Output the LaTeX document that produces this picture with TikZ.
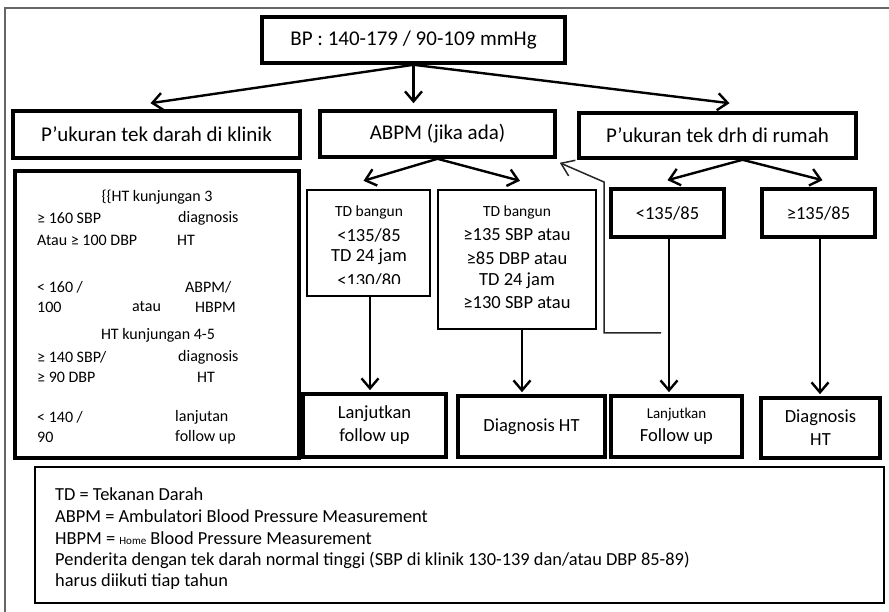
\documentclass[tikz,border=0pt]{standalone}
\usepackage{fontspec}
\setmainfont{Carlito}
\usetikzlibrary{arrows.meta,calc}
\newcommand{\myfs}[1]{\fontsize{#1}{#1}\selectfont}
\begin{document}
\begin{tikzpicture}[x=1pt,y=-1pt,
  frameline/.style={draw=black!60, line width=1.8pt},
  heavybox/.style={draw, line width=3.6pt, inner sep=0pt, align=center},
  medbox/.style={draw, line width=2.4pt, inner sep=0pt},
  legbox/.style={draw, line width=1.6pt, inner sep=0pt},
  txt/.style={inner sep=0pt},
  ltxt/.style={inner sep=0pt, anchor=west, font=\myfs{16}},
  ctxt/.style={inner sep=0pt, font=\myfs{16}},
  gtxt/.style={inner sep=0pt, anchor=west, font=\myfs{18.4}},
  arr/.style={line width=2.4pt, -{Straight Barb[length=10pt,width=17pt]}},
  thinarr/.style={draw=black!85, line width=1.5pt, -{Straight Barb[length=12pt,width=17pt]}}
]
\useasboundingbox (0,0) rectangle (889,612);
\fill[white] (0,0) rectangle (889,612);
% outer frame (only top and left visible)
\draw[frameline] (889,8) -- (5,8) -- (5,612);

% top box
\node[heavybox, minimum width=303pt, minimum height=46pt, font=\myfs{21}] (bp) at (413.5,40) {BP : 140-179 / 90-109 mmHg};

% second row
\node[heavybox, minimum width=287pt, minimum height=47pt, font=\myfs{21}] (klinik) at (156.5,134.5) {P’ukuran tek darah di klinik};
\node[heavybox, minimum width=235pt, minimum height=46pt, font=\myfs{21}] (abpm) at (437.5,134) {ABPM (jika ada)};
\node[heavybox, minimum width=277pt, minimum height=45pt, font=\myfs{21}] (rumah) at (717.5,135.5) {P’ukuran tek drh di rumah};

% big left box
\node[heavybox, line width=4.2pt, minimum width=284pt, minimum height=287pt] (left) at (157,314.5) {};
\node[ctxt] (l1) at (157,197) {\{\{HT kunjungan 3};
\node[ltxt] (l2a) at (37,218) {≥ 160 SBP};
\node[ltxt] (l2b) at (178,218) {diagnosis};
\node[ltxt] (l3a) at (37,240) {Atau ≥ 100 DBP};
\node[ltxt] (l3b) at (177,240) {HT};
\node[ltxt] (l4a) at (37,287) {< 160 /};
\node[ltxt] (l4b) at (185,287) {ABPM/};
\node[ltxt] (l5a) at (37,307) {100};
\node[ltxt] (l5b) at (132,307) {atau};
\node[ltxt] (l5c) at (195,307) {HBPM};
\node[ctxt] (l6) at (158,335) {HT kunjungan 4-5};
\node[ltxt] (l7a) at (37,357) {≥ 140 SBP/};
\node[ltxt] (l7b) at (178,357) {diagnosis};
\node[ltxt] (l8a) at (37,377) {≥ 90 DBP};
\node[ltxt] (l8b) at (197,377) {HT};
\node[ltxt] (l9a) at (37,417) {< 140 /};
\node[ltxt] (l9b) at (175,417) {lanjutan};
\node[ltxt] (l10a) at (37,437) {90};
\node[ltxt] (l10b) at (175,437) {follow up};

% TD bangun boxes
\node[medbox, minimum width=123pt, minimum height=106pt] (td1) at (368.5,243) {};
\begin{scope}
\clip (308,191) rectangle (429,283.5);
\node[txt, font=\myfs{15.5}] (td1a) at (369,212) {TD bangun};
\node[txt, font=\myfs{18.5}] (td1b) at (369,235) {<135/85};
\node[txt, font=\myfs{18.5}] (td1c) at (369,257) {TD 24 jam};
\node[txt, font=\myfs{18.5}] (td1d) at (369,280.5) {<130/80};
\end{scope}
\node[medbox, minimum width=158pt, minimum height=139pt] (td2) at (517,259.5) {};
\node[txt, font=\myfs{15.5}] (td2a) at (517,212) {TD bangun};
\node[txt, font=\myfs{18.5}] (td2b) at (517,235) {≥135 SBP atau};
\node[txt, font=\myfs{18.5}] (td2c) at (517,258) {≥85 DBP atau};
\node[txt, font=\myfs{18.5}] (td2d) at (517,281) {TD 24 jam};
\node[txt, font=\myfs{18.5}] (td2e) at (517,303) {≥130 SBP atau};

% home measurement result boxes
\node[heavybox, minimum width=113pt, minimum height=48pt, font=\myfs{18.5}] (lt) at (667.5,213) {<135/85};
\node[heavybox, minimum width=113pt, minimum height=48pt, font=\myfs{18.5}] (ge) at (818.5,213) {≥135/85};

% bottom row
\node[heavybox, minimum width=143pt, minimum height=63pt, font=\fontsize{18.5}{23}\selectfont] (lf1) at (374.5,425.5) {Lanjutkan\\follow up};
\node[heavybox, minimum width=147pt, minimum height=61pt, font=\myfs{18.5}] (dg1) at (531.5,426.5) {Diagnosis HT};
\node[heavybox, minimum width=131pt, minimum height=61pt] (lf2) at (676.5,426.5) {};
\node[txt, font=\myfs{15}] (lf2a) at (676.5,415) {Lanjutkan};
\node[txt, font=\myfs{18.5}] (lf2b) at (676.5,437) {Follow up};
\node[heavybox, minimum width=119pt, minimum height=60pt, font=\fontsize{18.5}{23}\selectfont] (dg2) at (820.5,428) {Diagnosis\\HT};

% legend
\node[legbox, minimum width=849pt, minimum height=136pt] (leg) at (459.5,535) {};
\node[gtxt] (g1) at (55,494) {TD = Tekanan Darah};
\node[gtxt] (g2) at (55,516) {ABPM = Ambulatori Blood Pressure Measurement};
\node[gtxt] (g3) at (55,538) {HBPM = {\myfs{11}Home} Blood Pressure Measurement};
\node[gtxt] (g4) at (55,560) {Penderita dengan tek darah normal tinggi (SBP di klinik 130-139 dan/atau DBP 85-89)};
\node[gtxt] (g5) at (55,582) {harus diikuti tiap tahun};

% connectors from BP
\draw[arr] (bp.south) -- ($(klinik.north)+(-6,-6)$);
\draw[arr] (bp.south) -- ($(bp.south |- abpm.north)+(0,-6)$);
\draw[arr] (bp.south) -- ($(rumah.north)+(12,-8)$);

% from ABPM
\draw[arr] (abpm.south) -- ($(td1.north)+(-5,-8)$);
\draw[arr] (abpm.south) -- ($(td2.north)+(3,-8)$);

% from rumah
\coordinate (rs) at ($(rumah.south)+(25,0)$);
\draw[arr] (rs) -- ($(lt.north)+(0,-7)$);
\draw[arr] (rs) -- ($(ge.north)+(4,-7)$);

% vertical arrows down
\coordinate (s1) at ($(td1.south)+(1.5,0)$);
\coordinate (s2) at ($(td2.south)+(5,0)$);
\coordinate (s3) at ($(lt.south)+(1.5,0)$);
\coordinate (s4) at ($(ge.south)+(1.5,0)$);
\coordinate (e1) at ($(lf1.north)+(0,-2)$);
\coordinate (e2) at ($(dg1.north)+(0,-2)$);
\coordinate (e3) at ($(lf2.north)+(0,-2)$);
\coordinate (e4) at ($(dg2.north)+(0,-2)$);
\draw[arr] (s1) -- (s1 |- e1);
\draw[arr] (s2) -- (s2 |- e2);
\draw[arr] (s3) -- (s3 |- e3);
\draw[arr] (s4) -- (s4 |- e4);

% thin connector
\coordinate (c1) at (661,333);
\coordinate (c2) at (604,333);
\coordinate (c3) at (604,182);
\coordinate (ctip) at ($(abpm.south east)+(3,4)$);
\draw[thinarr] (c1) -- (c2) -- (c3) -- (ctip);
\end{tikzpicture}
\end{document}
